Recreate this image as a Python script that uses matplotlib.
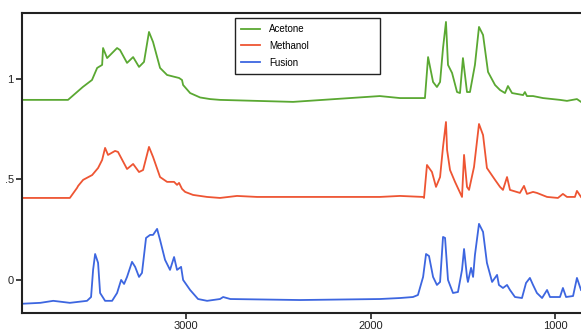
import matplotlib.pyplot as plt
from matplotlib.ticker import FixedLocator, FuncFormatter

plt.rcParams['font.family'] = ['Liberation Sans', 'DejaVu Sans']

# Acetone spectrum (offset, as drawn)
acetone_wn = [3900, 3640, 3560, 3510, 3482, 3455, 3450, 3428, 3374, 3358, 3320, 3287,
              3255, 3228, 3201, 3179, 3141, 3103, 3060, 3038, 3022, 3016, 2978, 2924,
              2870, 2816, 2420, 1950, 1840, 1715, 1705, 1688, 1661, 1640, 1623, 1607,
              1591, 1580, 1558, 1531, 1515, 1499, 1477, 1461, 1434, 1412, 1390, 1363,
              1325, 1298, 1271, 1255, 1233, 1173, 1163, 1152, 1119, 1065, 973, 935,
              881, 859]
acetone_abs = [0.896, 0.896, 0.960, 0.995, 1.055, 1.070, 1.154, 1.104, 1.154, 1.144, 1.080, 1.109,
               1.060, 1.085, 1.234, 1.184, 1.055, 1.020, 1.010, 1.005, 0.995, 0.970, 0.930, 0.908,
               0.900, 0.896, 0.886, 0.915, 0.905, 0.905, 0.905, 1.109, 0.985, 0.960, 0.985, 1.154,
               1.284, 1.070, 1.030, 0.935, 0.930, 1.104, 0.935, 0.935, 1.070, 1.259, 1.219, 1.035,
               0.970, 0.945, 0.930, 0.965, 0.930, 0.920, 0.935, 0.915, 0.915, 0.905, 0.896, 0.891,
               0.900, 0.886]

# Methanol spectrum
methanol_wn = [3900, 3630, 3591, 3585, 3558, 3509, 3477, 3455, 3439, 3423, 3385, 3369,
               3320, 3287, 3255, 3233, 3201, 3179, 3141, 3103, 3065, 3049, 3038, 3022,
               3005, 2962, 2886, 2816, 2724, 2615, 1950, 1840, 1715, 1710, 1694, 1667,
               1645, 1623, 1607, 1591, 1585, 1569, 1542, 1504, 1493, 1477, 1466, 1439,
               1412, 1390, 1369, 1325, 1298, 1282, 1260, 1244, 1190, 1168, 1152, 1119,
               1098, 1043, 984, 957, 935, 892, 881, 859]
methanol_abs = [0.408, 0.408, 0.458, 0.468, 0.498, 0.522, 0.557, 0.597, 0.657, 0.622, 0.642, 0.637,
                0.552, 0.577, 0.537, 0.547, 0.662, 0.612, 0.512, 0.488, 0.488, 0.473, 0.483, 0.453,
                0.438, 0.423, 0.413, 0.408, 0.418, 0.413, 0.413, 0.418, 0.413, 0.408, 0.572, 0.537,
                0.463, 0.512, 0.662, 0.786, 0.647, 0.547, 0.488, 0.413, 0.622, 0.463, 0.448, 0.562,
                0.776, 0.721, 0.557, 0.498, 0.463, 0.448, 0.512, 0.448, 0.433, 0.468, 0.428, 0.438,
                0.433, 0.413, 0.408, 0.428, 0.413, 0.413, 0.443, 0.413]

# Fusion spectrum
fusion_wn = [3900, 3790, 3720, 3630, 3537, 3515, 3504, 3493, 3477, 3466, 3439, 3401,
             3374, 3352, 3336, 3320, 3293, 3276, 3255, 3239, 3217, 3195, 3179, 3157,
             3141, 3114, 3087, 3065, 3049, 3027, 3016, 2978, 2935, 2886, 2816, 2799,
             2760, 2382, 1950, 1840, 1770, 1743, 1715, 1699, 1683, 1661, 1640, 1623,
             1607, 1596, 1580, 1553, 1526, 1504, 1493, 1477, 1472, 1455, 1444, 1434,
             1412, 1390, 1369, 1341, 1314, 1304, 1282, 1260, 1244, 1217, 1179, 1157,
             1136, 1119, 1098, 1070, 1043, 1027, 973, 957, 940, 902, 881, 859]
fusion_abs = [-0.119, -0.114, -0.104, -0.114, -0.104, -0.085, 0.050, 0.129, 0.085, -0.065, -0.104, -0.104,
              -0.065, 0.000, -0.020, 0.015, 0.090, 0.065, 0.015, 0.035, 0.209, 0.224, 0.224, 0.254,
              0.199, 0.100, 0.050, 0.114, 0.050, 0.065, 0.000, -0.050, -0.095, -0.104, -0.095, -0.085,
              -0.095, -0.100, -0.095, -0.090, -0.085, -0.075, 0.015, 0.129, 0.119, 0.015, -0.025, -0.010,
              0.214, 0.209, 0.000, -0.065, -0.060, 0.050, 0.154, 0.015, -0.010, 0.060, 0.015, 0.124,
              0.279, 0.239, 0.085, -0.010, 0.025, -0.025, -0.040, -0.025, -0.050, -0.085, -0.090, -0.015,
              0.010, -0.025, -0.065, -0.090, -0.050, -0.085, -0.085, -0.040, -0.085, -0.080, 0.010, -0.050]

x_ticks = [3000, 2000, 1000]
y_ticks = [0, 0.5, 1]


def short_label(v, pos):
    # "1", ".5", "0" like the original
    if v == int(v):
        return str(int(v))
    return f"{v:.1f}".lstrip("0")


fig = plt.figure(figsize=(5.81, 3.35), dpi=100)
ax = fig.add_axes([0.038, 0.066, 0.962, 0.895])

ax.plot(acetone_wn, acetone_abs, color='#5aa832', lw=1.3, label='Acetone')
ax.plot(methanol_wn, methanol_abs, color='#ee5533', lw=1.3, label='Methanol')
ax.plot(fusion_wn, fusion_abs, color='#3d66e0', lw=1.3, label='Fusion')

ax.set_xlim(3889, 859)
ax.set_ylim(-0.164, 1.328)
ax.xaxis.set_major_locator(FixedLocator(x_ticks))
ax.yaxis.set_major_locator(FixedLocator(y_ticks))
ax.yaxis.set_major_formatter(FuncFormatter(short_label))
ax.tick_params(direction='out', length=4, width=1.2, labelsize=8, pad=2, colors='#222222')

for side in ['left', 'bottom', 'top']:
    ax.spines[side].set_linewidth(1.5)
    ax.spines[side].set_color('#222222')
ax.spines['right'].set_visible(False)

# legend box spans px 230..385 and hangs from y=20
leg = ax.legend(loc='upper left', bbox_to_anchor=(0.396, 0.86, 0.267, 0.1),
                bbox_transform=fig.transFigure, mode='expand', fontsize=7,
                handlelength=2.0, handletextpad=0.9, labelspacing=0.7,
                borderpad=0.6, fancybox=False, framealpha=1)
leg.get_frame().set_edgecolor('#222222')
leg.get_frame().set_linewidth(1.0)

plt.savefig('out.png', dpi=100)
plt.close()
